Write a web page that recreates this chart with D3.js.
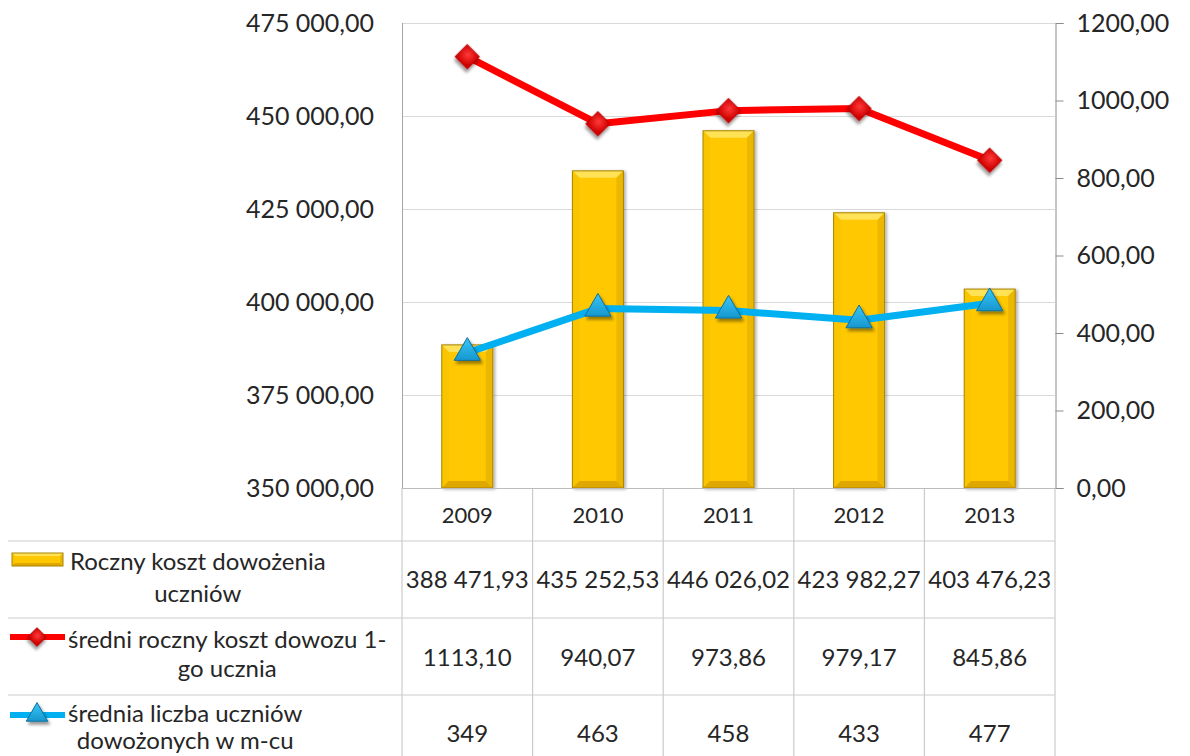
<!DOCTYPE html>
<html>
<head>
<meta charset="utf-8">
<script src="https://cdn.jsdelivr.net/npm/d3@7"></script>
<style>
  html, body { margin: 0; padding: 0; background: #fff; }
  svg { display: block; font-family: Lato, "Open Sans", sans-serif; }
</style>
</head>
<body>
<svg id="chart" width="1190" height="756"></svg>
<script>
// Koszty dowozu uczniów 2009–2013
const years = ["2009", "2010", "2011", "2012", "2013"];
const kosztRoczny = [388471.93, 435252.53, 446026.02, 423982.27, 403476.23];
const kosztNaUcznia = [1113.10, 940.07, 973.86, 979.17, 845.86];
const liczbaUczniow = [349, 463, 458, 433, 477];

const leftTicks = [350000, 375000, 400000, 425000, 450000, 475000];
const rightTicks = [0, 200, 400, 600, 800, 1000, 1200];

const seriesNames = [
  ["Roczny koszt dowożenia", "uczniów"],
  ["średni roczny koszt dowozu 1-", "go ucznia"],
  ["średnia liczba uczniów", "dowożonych w m-cu"]
];

const pl = d3.formatLocale({ decimal: ",", thousands: " ", grouping: [3], currency: ["", " zł"] });
const fmtGrouped = pl.format(",.2f");
const fmtPlain = pl.format(".2f");
const fmtInt = pl.format("d");

const svg = d3.select("#chart");
const W = 1190, H = 756;
const plot = { left: 402, right: 1055, top: 23, bottom: 488 };
const tableLeft = 8;
const rowLines = [541, 618, 695, 772];
const rowCenters = [579, 657, 733];

const x = d3.scaleBand().domain(years).range([plot.left, plot.right]).paddingInner(0).paddingOuter(0);
const yL = d3.scaleLinear().domain([350000, 475000]).range([plot.bottom, plot.top]);
const yR = d3.scaleLinear().domain([0, 1200]).range([plot.bottom, plot.top]);
const barW = 51;

svg.append("rect").attr("width", W).attr("height", H).attr("fill", "#fff");

// filters and gradients
const defs = svg.append("defs");
const sh = defs.append("filter").attr("id", "shadow").attr("x", "-50%").attr("y", "-50%").attr("width", "200%").attr("height", "200%");
sh.append("feDropShadow").attr("dx", 2).attr("dy", 3).attr("stdDeviation", 1.8).attr("flood-color", "#000").attr("flood-opacity", 0.4);
const shBar = defs.append("filter").attr("id", "barShadow").attr("x", "-20%").attr("y", "-5%").attr("width", "140%").attr("height", "110%");
shBar.append("feDropShadow").attr("dx", 2).attr("dy", 1).attr("stdDeviation", 1.5).attr("flood-color", "#000").attr("flood-opacity", 0.3);

const gRed = defs.append("radialGradient").attr("id", "gRed").attr("cx", "45%").attr("cy", "40%").attr("r", "60%");
gRed.append("stop").attr("offset", "0%").attr("stop-color", "#ff3a3a");
gRed.append("stop").attr("offset", "100%").attr("stop-color", "#d00000");
const gBlue = defs.append("linearGradient").attr("id", "gBlue").attr("x1", 0).attr("y1", 0).attr("x2", 0).attr("y2", 1);
gBlue.append("stop").attr("offset", "0%").attr("stop-color", "#3cc6f5");
gBlue.append("stop").attr("offset", "100%").attr("stop-color", "#1597cf");

// gridlines
svg.append("g").selectAll("line").data(leftTicks.filter(t => t > 350000)).join("line")
  .attr("x1", plot.left).attr("x2", plot.right)
  .attr("y1", d => Math.round(yL(d)) + 0.5).attr("y2", d => Math.round(yL(d)) + 0.5)
  .attr("stroke", "#d9d9d9").attr("stroke-width", 1);

// table grid
const tbl = svg.append("g").attr("stroke", "#cbcbcb").attr("stroke-width", 1.2);
rowLines.forEach(yv => tbl.append("line").attr("x1", tableLeft).attr("x2", plot.right).attr("y1", yv).attr("y2", yv));
years.forEach((yr, i) => {
  if (i > 0) tbl.append("line").attr("x1", x(yr)).attr("x2", x(yr)).attr("y1", plot.bottom).attr("y2", H);
});
tbl.append("line").attr("x1", plot.left).attr("x2", plot.left).attr("y1", plot.bottom).attr("y2", H);
tbl.append("line").attr("x1", plot.right).attr("x2", plot.right).attr("y1", plot.bottom).attr("y2", H);

// bevelled bar
function bevelBar(g, x0, x1, y0, y1, b) {
  g.append("rect").attr("x", x0).attr("y", y0).attr("width", x1 - x0).attr("height", y1 - y0).attr("fill", "#ffc800");
  g.append("polygon").attr("points", [[x0, y0], [x1, y0], [x1 - b, y0 + b], [x0 + b, y0 + b]].join(" ")).attr("fill", "#ffe257");
  g.append("polygon").attr("points", [[x0, y0], [x0 + b, y0 + b], [x0 + b, y1 - b], [x0, y1]].join(" ")).attr("fill", "#f9c500");
  g.append("polygon").attr("points", [[x1, y0], [x1 - b, y0 + b], [x1 - b, y1 - b], [x1, y1]].join(" ")).attr("fill", "#ecb700");
  g.append("polygon").attr("points", [[x0, y1], [x0 + b, y1 - b], [x1 - b, y1 - b], [x1, y1]].join(" ")).attr("fill", "#dfa800");
  g.append("rect").attr("x", x0).attr("y", y0).attr("width", x1 - x0).attr("height", y1 - y0)
    .attr("fill", "none").attr("stroke", "#a88300").attr("stroke-width", 1);
}

const bars = svg.append("g");
years.forEach((yr, i) => {
  const cx = x(yr) + x.bandwidth() / 2;
  const g = bars.append("g").attr("filter", "url(#barShadow)");
  bevelBar(g, cx - barW / 2, cx + barW / 2, yL(kosztRoczny[i]), plot.bottom, 7);
});

// axes lines
svg.append("line").attr("x1", plot.left + 0.5).attr("x2", plot.left + 0.5).attr("y1", plot.top).attr("y2", plot.bottom).attr("stroke", "#a6a6a6");
svg.append("line").attr("x1", plot.left).attr("x2", plot.right).attr("y1", plot.bottom + 0.5).attr("y2", plot.bottom + 0.5).attr("stroke", "#bcbcbc");

// left axis
const axL = svg.append("g").attr("transform", `translate(${plot.left},0)`)
  .call(d3.axisLeft(yL).tickValues(leftTicks).tickSize(0).tickPadding(28).tickFormat(d => fmtGrouped(d)));
axL.select(".domain").remove();
axL.selectAll("text").attr("font-size", 25).attr("fill", "#262626").attr("font-family", "Lato");

// right axis
const axR = svg.append("g").attr("transform", `translate(${plot.right + 0.5},0)`)
  .call(d3.axisRight(yR).tickValues(rightTicks).tickSize(8).tickPadding(13).tickFormat(d => fmtPlain(d)));
axR.select(".domain").attr("stroke", "#8c8c8c");
axR.selectAll(".tick line").attr("stroke", "#8c8c8c");
axR.selectAll("text").attr("font-size", 25).attr("fill", "#262626").attr("font-family", "Lato");

// category labels
svg.append("g").selectAll("text").data(years).join("text")
  .attr("x", d => x(d) + x.bandwidth() / 2).attr("y", 523)
  .attr("text-anchor", "middle").attr("font-size", 22).attr("fill", "#262626")
  .text(d => d);

// lines
const lineR = d3.line().x((d, i) => x(years[i]) + x.bandwidth() / 2).y(d => yR(d));
svg.append("path").datum(kosztNaUcznia).attr("d", lineR)
  .attr("fill", "none").attr("stroke", "#ff0000").attr("stroke-width", 7).attr("stroke-linejoin", "round");
svg.append("path").datum(liczbaUczniow).attr("d", lineR)
  .attr("fill", "none").attr("stroke", "#00b0f0").attr("stroke-width", 7).attr("stroke-linejoin", "round");

const diamond = s => d3.symbol(d3.symbolSquare, s)();
const triangle = s => d3.symbol(d3.symbolTriangle, s)();

svg.append("g").selectAll("path").data(kosztNaUcznia).join("path")
  .attr("d", diamond(300))
  .attr("transform", (d, i) => `translate(${x(years[i]) + x.bandwidth() / 2},${yR(d)}) rotate(45)`)
  .attr("fill", "url(#gRed)").attr("stroke", "#b30000").attr("stroke-width", 0.8)
  .attr("filter", "url(#shadow)");

svg.append("g").selectAll("path").data(liczbaUczniow).join("path")
  .attr("d", triangle(300))
  .attr("transform", (d, i) => `translate(${x(years[i]) + x.bandwidth() / 2},${yR(d)})`)
  .attr("fill", "url(#gBlue)").attr("stroke", "#0c6f9e").attr("stroke-width", 1)
  .attr("filter", "url(#shadow)");

// table values
const rows = [
  kosztRoczny.map(v => fmtGrouped(v)),
  kosztNaUcznia.map(v => fmtPlain(v)),
  liczbaUczniow.map(v => fmtInt(v))
];
rows.forEach((vals, r) => {
  svg.append("g").selectAll("text").data(vals).join("text")
    .attr("x", (d, i) => x(years[i]) + x.bandwidth() / 2)
    .attr("y", rowCenters[r] + 8.5)
    .attr("text-anchor", "middle").attr("font-size", 24).attr("fill", "#262626")
    .text(d => d);
});

// legend cells
const leg = svg.append("g");
bevelBar(leg.append("g"), 12, 63, 553, 566, 3);
leg.append("line").attr("x1", 10).attr("x2", 65).attr("y1", 637).attr("y2", 637).attr("stroke", "#ff0000").attr("stroke-width", 6);
leg.append("path").attr("d", diamond(170)).attr("transform", "translate(37,637) rotate(45)")
  .attr("fill", "url(#gRed)").attr("stroke", "#b30000").attr("stroke-width", 0.8).attr("filter", "url(#shadow)");
leg.append("line").attr("x1", 10).attr("x2", 65).attr("y1", 715).attr("y2", 715).attr("stroke", "#00b0f0").attr("stroke-width", 6);
leg.append("path").attr("d", triangle(200)).attr("transform", "translate(37,715)")
  .attr("fill", "url(#gBlue)").attr("stroke", "#0c6f9e").attr("stroke-width", 1).attr("filter", "url(#shadow)");

const legBase = [[570, 602], [648, 677], [722, 749]];
const legStart = [70, 68, 68];
seriesNames.forEach((lines, r) => {
  const t1 = leg.append("text").attr("x", legStart[r]).attr("y", legBase[r][0])
    .attr("font-size", 24).attr("fill", "#262626").text(lines[0]);
  const w = t1.node().getComputedTextLength();
  leg.append("text").attr("x", legStart[r] + w / 2).attr("y", legBase[r][1])
    .attr("text-anchor", "middle").attr("font-size", 24).attr("fill", "#262626").text(lines[1]);
});
</script>
</body>
</html>
